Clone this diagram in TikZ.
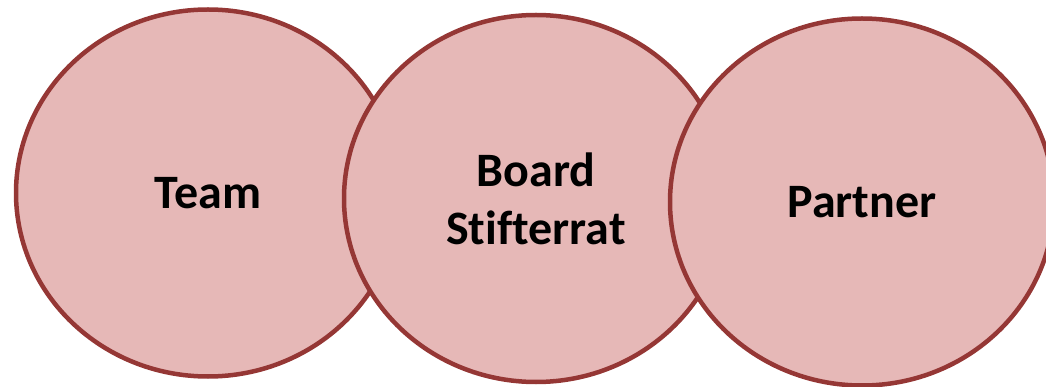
\documentclass[tikz,border=0pt]{standalone}
\usepackage{fontspec}
\setmainfont{Carlito}[Ligatures={NoCommon,NoRare,NoContextual}]
\usetikzlibrary{shapes.geometric}
\definecolor{ringfill}{HTML}{E6B8B7}
\definecolor{ringline}{HTML}{953735}
\begin{document}
\begin{tikzpicture}[x=1pt,y=-1pt,
  ring/.style={ellipse, draw=ringline, fill=ringfill, line width=4.5pt,
    inner sep=0pt, minimum width=384pt, minimum height=367pt,
    font=\fontsize{48}{58}\selectfont\bfseries, align=center, text=black}]
\useasboundingbox (0,0) rectangle (1046,387);
\node[ring] (team) at (208,193) {Team};
\node[ring] (board) at (536,198.5) {Board\\Stifterrat};
\node[ring] (partner) at (862,202) {Partner};
\end{tikzpicture}
\end{document}
